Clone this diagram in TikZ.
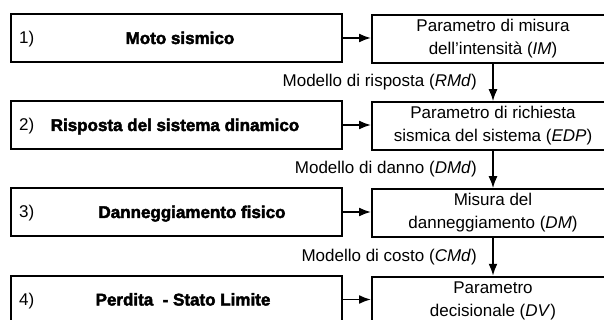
\documentclass[tikz,border=0pt]{standalone}
\usepackage{fontspec}
\setmainfont{Liberation Sans}
\newfontfamily\heavyfont[FakeBold=2.5]{Liberation Sans Bold}
\usetikzlibrary{arrows.meta}
\begin{document}
\begin{tikzpicture}[x=1pt,y=-1pt,
  every node/.style={font=\fontsize{17}{23}\selectfont},
  leftbox/.style={draw,line width=2pt,minimum width=331pt,minimum height=47.5pt,inner sep=0pt},
  rightbox/.style={draw,line width=2pt,minimum width=242pt,minimum height=47.5pt,inner sep=0pt,align=center},
  numlbl/.style={anchor=base west,inner sep=0pt},
  title/.style={font=\fontsize{17}{22}\selectfont\heavyfont,anchor=base,inner sep=0pt},
  arr/.style={line width=1.8pt,-{Latex[length=12pt,width=9pt]}},
  modlbl/.style={midway,left=12pt}
]
\useasboundingbox (0,0) rectangle (604,320);
\fill[white] (0,0) rectangle (604,320);
\clip (0,0) rectangle (604,320);

\node[leftbox] (L1) at (176.2,38) {};
\node[leftbox] (L2) at (176.2,125) {};
\node[leftbox] (L3) at (176.2,212) {};
\node[leftbox] (L4) at (176.2,299.5) {};

\node[rightbox] (R1) at (493,39) {Parametro di misura\\dell’intensità (\textit{IM})};
\node[rightbox] (R2) at (493,126) {Parametro di richiesta\\sismica del sistema (\textit{EDP})};
\node[rightbox] (R3) at (493,213) {Misura del\\danneggiamento (\textit{DM})};
\node[rightbox] (R4) at (493,300.5) {Parametro\\decisionale (\textit{DV})};

\node[numlbl] (n1) at (19,44) {1)};
\node[numlbl] (n2) at (19,131) {2)};
\node[numlbl] (n3) at (19,218) {3)};
\node[numlbl] (n4) at (19,305.5) {4)};

\node[title] (t1) at (180,44) {Moto sismico};
\node[title] (t2) at (175,131) {Risposta del sistema dinamico};
\node[title] (t3) at (192,218) {Danneggiamento fisico};
\node[title] (t4) at (183,305.5) {Perdita~ - Stato Limite};

\draw[arr] (L1.east) -- (R1.west |- L1.east);
\draw[arr] (L2.east) -- (R2.west |- L2.east);
\draw[arr] (L3.east) -- (R3.west |- L3.east);
\draw[arr] (L4.east) -- (R4.west |- L4.east);

\draw[arr] (R1.south) -- node[modlbl] (m1) {Modello di risposta (\textit{RMd})} (R2.north);
\draw[arr] (R2.south) -- node[modlbl] (m2) {Modello di danno (\textit{DMd})} (R3.north);
\draw[arr] (R3.south) -- node[modlbl] (m3) {Modello di costo (\textit{CMd})} (R4.north);
\end{tikzpicture}
\end{document}
